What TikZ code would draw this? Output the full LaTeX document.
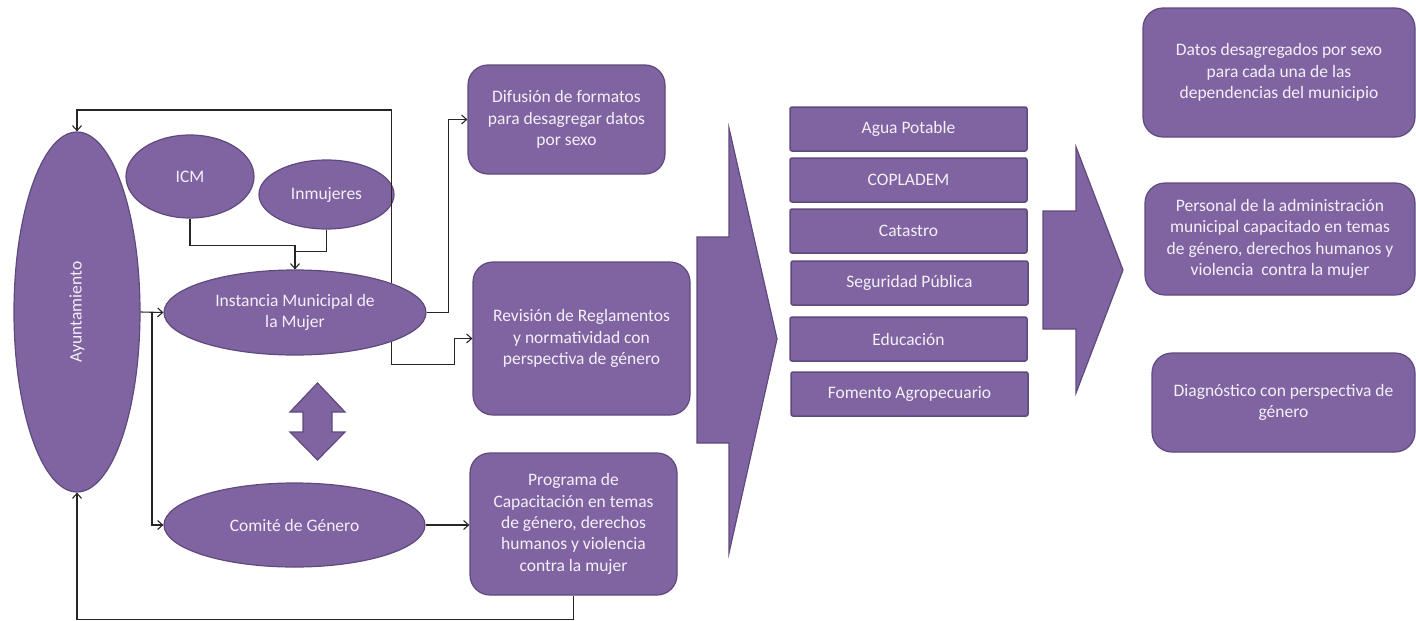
\documentclass[tikz,border=0pt]{standalone}
\usepackage{fontspec}
\setmainfont{Carlito}
\usetikzlibrary{shapes.geometric,arrows.meta,calc}
\definecolor{pfill}{HTML}{8064A2}
\definecolor{pline}{HTML}{5E4A7C}
\definecolor{ptext}{HTML}{F4F0F8}
\begin{document}
\begin{tikzpicture}[x=1pt,y=-1pt,
  every node/.style={font=\fontsize{17.5}{21.4}\selectfont, text=ptext},
  ell/.style={ellipse, draw=pline, fill=pfill, line width=1.2pt, inner sep=0pt, align=center},
  rbox/.style={rectangle, rounded corners=20pt, draw=pline, fill=pfill, line width=1.2pt, align=center, inner sep=0pt},
  dbox/.style={rectangle, rounded corners=2pt, draw=pline, fill=pfill, line width=1.5pt, minimum width=237pt, minimum height=44pt, inner sep=0pt},
  conn/.style={draw=black!85, line width=1.1pt, -{Straight Barb[length=5pt,width=9pt]}},
  lineonly/.style={draw=black!85, line width=1.1pt},
  shp/.style={fill=pfill, draw=pline, line width=1.2pt, line join=miter}
]
\useasboundingbox (0,0) rectangle (1416,621);

% left ellipses
\node[ell, minimum width=126pt, minimum height=360pt] (ay) at (77,312) {};
\node[rotate=90] (aytxt) at (ay.center) {Ayuntamiento};
\node[ell, minimum width=128pt, minimum height=83pt] (icm) at (190,176.5) {ICM};
\node[ell, minimum width=135pt, minimum height=69pt] (inm) at (326.5,194.5) {Inmujeres};
\node[ell, minimum width=262pt, minimum height=85pt] (im) at (295,312.5) {Instancia Municipal de\\la Mujer};
\node[ell, minimum width=261pt, minimum height=84pt] (cg) at (294.5,525) {Comité de Género};

% middle boxes
\node[rbox, minimum width=197pt, minimum height=109pt] (dif) at (566.5,119.5) {Difusión de formatos\\para desagregar datos\\por sexo};
\node[rbox, minimum width=217pt, minimum height=153pt] (rev) at (581.5,338.5) {Revisión de Reglamentos\\y normatividad con\\perspectiva de género};
\node[rbox, minimum width=207pt, minimum height=142pt] (prog) at (573.5,524) {Programa de\\Capacitación en temas\\de género, derechos\\humanos y violencia\\contra la mujer};

% double arrow
\draw[shp] (290,412) -- (317.5,383) -- (345,412) -- (332,412) -- (332,432) -- (345,432) -- (317.5,460) -- (290,432) -- (303,432) -- (303,412) -- cycle;

% big arrows
\draw[shp] (697,237) -- (729,237) -- (729,128) -- (777,339) -- (729,553) -- (729,443) -- (697,443) -- cycle;
\draw[shp] (1043,211) -- (1076,211) -- (1076,147) -- (1123,270) -- (1076,393) -- (1076,329) -- (1043,329) -- cycle;

% departments
\node[dbox] (d1) at (908.5,129) {Agua Potable};
\node[dbox] (d2) at (908.5,180) {COPLADEM};
\node[dbox] (d3) at (908.5,231) {Catastro};
\node[dbox] (d4) at (909.5,283) {Seguridad Pública};
\node[dbox] (d5) at (908.5,339) {Educación};
\node[dbox] (d6) at (909.5,394) {Fomento Agropecuario};

% results
\node[rbox, minimum width=272pt, minimum height=129pt] (r1) at (1279,72.5) {Datos desagregados por sexo\\para cada una de las\\dependencias del municipio};
\node[rbox, minimum width=270pt, minimum height=112pt] (r2) at (1280,239) {Personal de la administración\\municipal capacitado en temas\\de género, derechos humanos y\\violencia\ \ contra la mujer};
\node[rbox, minimum width=263pt, minimum height=99pt] (r3) at (1283.5,402.5) {Diagnóstico con perspectiva de\\género};

% connectors
\coordinate (topy) at (0,110);
\draw[conn] (im.17.7) -- (im.17.7 |- topy) -| (ay.north);
\draw[lineonly] (inm.south) -- ++(0,22) -| (im.north);
\draw[conn] (icm.south) -- ++(0,27) -| (im.north);
\draw[conn] (ay.east) -- (im.west);
\coordinate (split) at ($(ay.east)!0.5!(im.west)$);
\draw[conn] (split) |- (cg.west);
\draw[conn] (im.east) -- ++(22,0) |- (dif.west);
\draw[conn] (im.-17.7) -- ++(0,23) -- ++(63,0) |- (rev.west);
\draw[conn] (cg.east) -- (cg.east -| prog.west);
\draw[conn] (prog.south) -- ++(0,24) -| (ay.south);
\end{tikzpicture}
\end{document}
